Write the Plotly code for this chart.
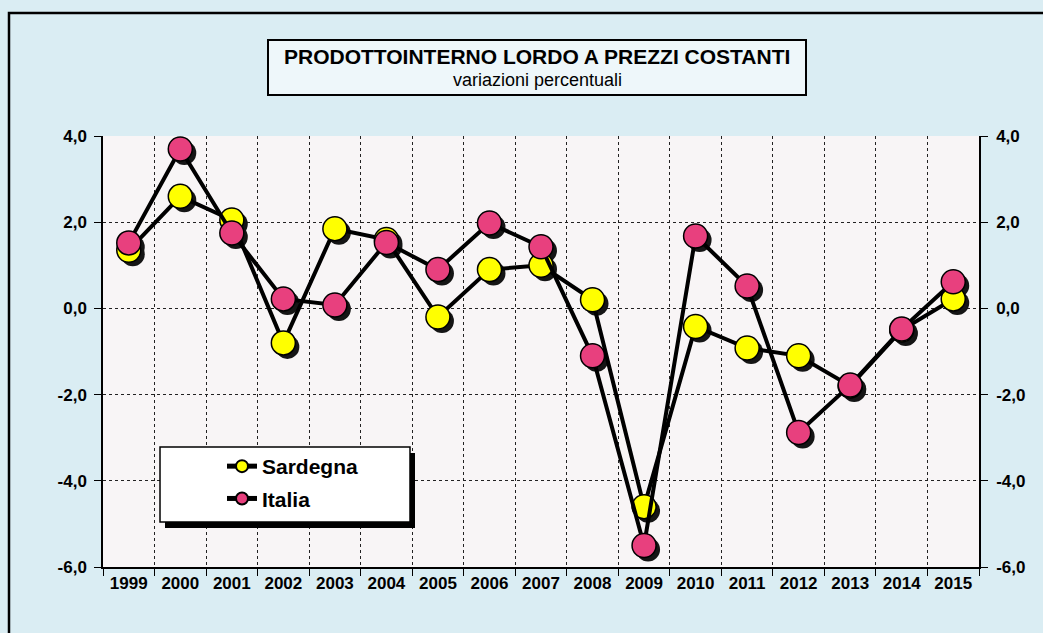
import plotly.graph_objects as go

# ---- data ----
years = ["1999", "2000", "2001", "2002", "2003", "2004", "2005", "2006", "2007",
         "2008", "2009", "2010", "2011", "2012", "2013", "2014", "2015"]
sardegna = [1.35, 2.6, 2.05, -0.8, 1.85, 1.6, -0.2, 0.9, 1.0,
            0.2, -4.6, -0.42, -0.92, -1.1, -1.8, -0.5, 0.22]
italia = [1.52, 3.7, 1.75, 0.22, 0.08, 1.53, 0.9, 1.98, 1.43,
          -1.1, -5.5, 1.68, 0.52, -2.88, -1.78, -0.48, 0.62]
ytick_vals = [-6, -4, -2, 0, 2, 4]
ytick_text = ["-6,0", "-4,0", "-2,0", "0,0", "2,0", "4,0"]
title_main = "PRODOTTOINTERNO LORDO A PREZZI COSTANTI"
title_sub = "variazioni percentuali"

# ---- geometry (pixels) ----
W, H = 1043, 633
ML, MR, MT, MB = 103, 60, 136, 62
PW, PH = W - ML - MR, H - MT - MB
SH = 4  # shadow offset, px
PLOT_W, PLOT_H = PW - SH, PH - SH


def px(x):
    return (x - ML) / PW


def py(y):
    return (H - MB - y) / PH


FONT = "Liberation Sans, Arial, sans-serif"
YELLOW = "#ffff00"
PINK = "#e8407e"
PLOT_BG = "#f8f5f6"

fig = go.Figure()

# invisible carriers so that the main (grid) axes and right axis are drawn
fig.add_trace(go.Scatter(x=years, y=sardegna, xaxis="x", yaxis="y", mode="lines",
                         line=dict(width=0), opacity=0, showlegend=False,
                         hoverinfo="skip"))
fig.add_trace(go.Scatter(x=years, y=italia, xaxis="x", yaxis="y2", mode="lines",
                         line=dict(width=0), opacity=0, showlegend=False,
                         hoverinfo="skip"))

# shadows (drawn in the shifted subplot)
for vals in (sardegna, italia):
    fig.add_trace(go.Scatter(
        x=years, y=vals, xaxis="x2", yaxis="y3", mode="markers",
        marker=dict(size=24, color="#151515", line=dict(width=0)),
        showlegend=False, hoverinfo="skip", cliponaxis=False))

# visible series
for name, vals, col in (("Sardegna", sardegna, YELLOW), ("Italia", italia, PINK)):
    fig.add_trace(go.Scatter(
        x=years, y=vals, name=name, xaxis="x3", yaxis="y4",
        mode="lines+markers", legendgroup=name,
        line=dict(color="black", width=4),
        marker=dict(size=24, color=col, line=dict(color="black", width=1.5)),
        cliponaxis=False))

xdom = [0, PLOT_W / PW]
ydom = [SH / PH, 1]
xdom_s = [SH / PW, 1]
ydom_s = [0, PLOT_H / PH]

tickfont = dict(family=FONT, size=17, color="black", weight="bold")
cat_common = dict(type="category", categoryorder="array", categoryarray=years,
                  range=[-0.5, len(years) - 0.5])
y_common = dict(range=[-6, 4])

fig.update_layout(
    width=W, height=H,
    margin=dict(l=ML, r=MR, t=MT, b=MB, pad=0),
    paper_bgcolor="#daedf3",
    plot_bgcolor="rgba(0,0,0,0)",
    font=dict(family=FONT, color="black"),
    xaxis=dict(**cat_common, domain=xdom, anchor="y", tickson="boundaries",
               showgrid=True, gridcolor="#222222", griddash="dot", gridwidth=1,
               showline=True, linecolor="black", linewidth=1.5,
               ticks="outside", ticklen=7, tickcolor="black",
               tickfont=tickfont, fixedrange=True),
    yaxis=dict(**y_common, domain=ydom, anchor="x",
               tickvals=ytick_vals, ticktext=ytick_text,
               showgrid=True, gridcolor="#222222", griddash="dot", gridwidth=1,
               zeroline=False, showline=True, linecolor="black", linewidth=1.5,
               ticks="outside", ticklen=7, tickcolor="black",
               tickfont=tickfont, ticklabelstandoff=4),
    yaxis2=dict(**y_common, overlaying="y", side="right", anchor="x",
                tickvals=ytick_vals, ticktext=ytick_text,
                showgrid=False, zeroline=False, showline=True,
                linecolor="black", linewidth=1.5,
                ticks="outside", ticklen=7, tickcolor="black",
                tickfont=tickfont, ticklabelstandoff=5),
    xaxis2=dict(**cat_common, domain=xdom_s, anchor="y3", visible=False),
    yaxis3=dict(**y_common, domain=ydom_s, anchor="x2", visible=False),
    xaxis3=dict(**cat_common, domain=xdom, anchor="y4", visible=False),
    yaxis4=dict(**y_common, domain=ydom, anchor="x3", visible=False),
    showlegend=True,
    legend=dict(x=px(222), y=py(446), xanchor="left", yanchor="top",
                bgcolor="rgba(0,0,0,0)", borderwidth=0,
                font=dict(family=FONT, size=21, color="black", weight="bold"),
                itemsizing="constant", tracegroupgap=2, traceorder="grouped"),
)

shapes = [
    # plot area background
    dict(type="rect", xref="paper", yref="paper",
         x0=xdom[0], x1=xdom[1], y0=ydom[0], y1=ydom[1],
         line=dict(width=0), fillcolor=PLOT_BG, layer="below"),
    # outer frame
    dict(type="rect", xref="paper", yref="paper",
         x0=px(9), x1=px(1060), y0=py(13), y1=py(660),
         line=dict(color="black", width=2.5), fillcolor="rgba(0,0,0,0)", layer="above"),
    # title box
    dict(type="rect", xref="paper", yref="paper",
         x0=px(268), x1=px(806), y0=py(40), y1=py(95),
         line=dict(color="black", width=2), fillcolor="#eef7fa", layer="below"),
    # legend shadow + box
    dict(type="rect", xref="paper", yref="paper",
         x0=px(165), x1=px(415), y0=py(453), y1=py(528),
         line=dict(width=0), fillcolor="black", layer="above"),
    dict(type="rect", xref="paper", yref="paper",
         x0=px(160), x1=px(410), y0=py(447), y1=py(522),
         line=dict(color="black", width=1.5), fillcolor="white", layer="above"),
]
fig.update_layout(shapes=shapes)

fig.add_annotation(text="<b>" + title_main + "</b>", xref="paper", yref="paper",
                   x=px(537), y=py(57), xanchor="center", yanchor="middle",
                   showarrow=False, font=dict(family=FONT, size=21, color="black"))
fig.add_annotation(text=title_sub, xref="paper", yref="paper",
                   x=px(537), y=py(80), xanchor="center", yanchor="middle",
                   showarrow=False, font=dict(family=FONT, size=18, color="black"))

fig.write_html("out.html", config={"displayModeBar": False},
               post_script="document.body.style.margin='0';"
                           "document.body.style.overflow='hidden';")
